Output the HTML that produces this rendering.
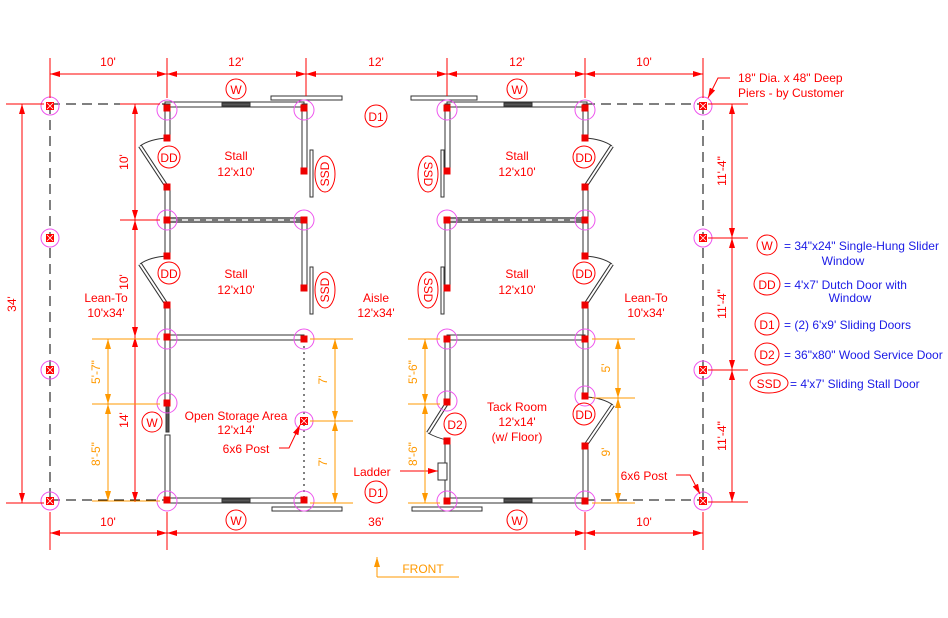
<!DOCTYPE html>
<html><head><meta charset="utf-8"><style>
html,body{margin:0;padding:0;background:#fff;}
svg{display:block;font-family:"Liberation Sans",sans-serif;}
</style></head><body>
<svg width="948" height="618" viewBox="0 0 948 618" xmlns="http://www.w3.org/2000/svg">
<defs>
<marker id="a" viewBox="0 0 10 6" refX="10" refY="3" markerWidth="10" markerHeight="6" orient="auto-start-reverse" markerUnits="userSpaceOnUse"><path d="M0,0L10,3L0,6z" fill="#f00"/></marker>
<marker id="o" viewBox="0 0 10 6" refX="10" refY="3" markerWidth="10" markerHeight="6" orient="auto-start-reverse" markerUnits="userSpaceOnUse"><path d="M0,0L10,3L0,6z" fill="#f90"/></marker>
<g id="pier"><circle r="9" fill="none" stroke="#e5e" stroke-width="1"/><rect x="-4" y="-4" width="8" height="8" fill="#f00"/><path d="M-3,-3L3,3M3,-3L-3,3" stroke="#fff" stroke-width="0.8"/></g>
<g id="post"><rect x="-3.5" y="-3.5" width="7" height="7" fill="#e00"/></g>
</defs>

<g stroke="#000" stroke-width="1" stroke-dasharray="10,6" fill="none">
<line x1="50" y1="104" x2="167" y2="104"/><line x1="585" y1="104" x2="703" y2="104"/>
<line x1="50" y1="104" x2="50" y2="500"/><line x1="703" y1="104" x2="703" y2="500"/>
<line x1="50" y1="500" x2="167" y2="500"/><line x1="585" y1="500" x2="703" y2="500"/>
</g>

<g fill="#fff" stroke="#333" stroke-width="1">
<rect x="165" y="102" width="139" height="5"/>
<rect x="165" y="104" width="5" height="34"/>
<rect x="165" y="187" width="5" height="69"/>
<rect x="165" y="305" width="5" height="97"/>
<rect x="165" y="435" width="5" height="67"/>
<rect x="302" y="104" width="5" height="68"/>
<rect x="302" y="220" width="5" height="70"/>
<rect x="167" y="335" width="137" height="5"/>
<rect x="165" y="498" width="139" height="5"/>
<rect x="447" y="102" width="140" height="5"/>
<rect x="445" y="104" width="5" height="68"/>
<rect x="445" y="220" width="5" height="70"/>
<rect x="583" y="104" width="5" height="34"/>
<rect x="583" y="187" width="5" height="69"/>
<rect x="583" y="305" width="5" height="92"/>
<rect x="583" y="446" width="5" height="56"/>
<rect x="447" y="335" width="138" height="5"/>
<rect x="445" y="337" width="5" height="66"/>
<rect x="445" y="440" width="5" height="62"/>
<rect x="447" y="498" width="140" height="5"/>
</g>
<g><rect x="167" y="217" width="137" height="6" fill="#777"/><line x1="170" y1="220" x2="304" y2="220" stroke="#fff" stroke-width="1.5" stroke-dasharray="6,6"/>
<rect x="447" y="217" width="138" height="6" fill="#777"/><line x1="450" y1="220" x2="585" y2="220" stroke="#fff" stroke-width="1.5" stroke-dasharray="6,6"/>
<line x1="304.5" y1="110" x2="304.5" y2="170" stroke="#fff" stroke-width="1" stroke-dasharray="5,5"/>
<line x1="447.5" y1="110" x2="447.5" y2="170" stroke="#fff" stroke-width="1" stroke-dasharray="5,5"/>
</g>
<g fill="#555" stroke="#333"><rect x="222" y="103" width="28" height="3"/><rect x="222" y="499" width="28" height="3"/><rect x="504" y="103" width="28" height="3"/><rect x="504" y="499" width="28" height="3"/><rect x="166" y="404" width="3" height="28"/></g>
<g fill="#fff" stroke="#333"><rect x="271" y="96" width="71" height="4"/><rect x="411" y="96" width="66" height="4"/><rect x="272" y="507" width="70" height="4"/><rect x="412" y="507" width="70" height="4"/>
<rect x="310" y="150" width="3" height="47"/><rect x="310" y="267" width="3" height="47"/><rect x="441" y="150" width="3" height="47"/><rect x="441" y="267" width="3" height="47"/>
<rect x="438" y="463" width="9" height="17"/></g>
<g fill="none" stroke="#333" stroke-width="1">
<path d="M140,146 L167,187" stroke-width="4"/><path d="M140,146 L167,187" stroke="#fff" stroke-width="2"/>
<path d="M167,138 Q150,139 140,146"/>
<path d="M140,264 L167,305" stroke-width="4"/><path d="M140,264 L167,305" stroke="#fff" stroke-width="2"/>
<path d="M167,256 Q150,257 140,264"/>
<path d="M612,146 L585,187" stroke-width="4"/><path d="M612,146 L585,187" stroke="#fff" stroke-width="2"/>
<path d="M585,138 Q602,139 612,146"/>
<path d="M612,264 L585,305" stroke-width="4"/><path d="M612,264 L585,305" stroke="#fff" stroke-width="2"/>
<path d="M585,256 Q602,257 612,264"/>
<path d="M613,405 L585,446" stroke-width="4"/><path d="M613,405 L585,446" stroke="#fff" stroke-width="2"/>
<path d="M587,397 Q603,398 613,405"/>
<path d="M447,403 L428,433" stroke-width="4"/><path d="M447,403 L428,433" stroke="#fff" stroke-width="2"/>
<path d="M428,433 Q437,438 447,440"/>
</g>
<line x1="304" y1="340" x2="304" y2="498" stroke="#000" stroke-dasharray="2,4"/>

<g>
<use href="#post" x="167" y="108"/><use href="#post" x="167" y="138"/><use href="#post" x="167" y="187"/><use href="#post" x="167" y="256"/><use href="#post" x="167" y="305"/><use href="#post" x="167" y="220"/><use href="#post" x="167" y="337"/><use href="#post" x="167" y="403"/><use href="#post" x="167" y="500"/>
<use href="#post" x="304" y="108"/><use href="#post" x="304" y="171"/><use href="#post" x="304" y="220"/><use href="#post" x="304" y="288"/><use href="#post" x="304" y="339"/><use href="#post" x="304" y="500"/>
<use href="#post" x="447" y="108"/><use href="#post" x="447" y="171"/><use href="#post" x="447" y="220"/><use href="#post" x="447" y="288"/><use href="#post" x="447" y="339"/><use href="#post" x="447" y="402"/><use href="#post" x="447" y="441"/><use href="#post" x="447" y="501"/>
<use href="#post" x="585" y="108"/><use href="#post" x="585" y="138"/><use href="#post" x="585" y="187"/><use href="#post" x="585" y="220"/><use href="#post" x="585" y="256"/><use href="#post" x="585" y="305"/><use href="#post" x="585" y="339"/><use href="#post" x="585" y="396"/><use href="#post" x="585" y="446"/><use href="#post" x="585" y="501"/>
</g>
<g fill="none" stroke="#e5e"><circle cx="167" cy="110" r="10"/><circle cx="304" cy="110" r="10"/><circle cx="447" cy="110" r="10"/><circle cx="585" cy="110" r="10"/>
<circle cx="167" cy="220" r="10"/><circle cx="304" cy="220" r="10"/><circle cx="447" cy="220" r="10"/><circle cx="585" cy="220" r="10"/>
<circle cx="167" cy="339" r="10"/><circle cx="304" cy="339" r="10"/><circle cx="447" cy="339" r="10"/><circle cx="585" cy="339" r="10"/>
<circle cx="167" cy="403" r="10"/><circle cx="447" cy="401" r="10"/><circle cx="585" cy="396" r="10"/>
<circle cx="167" cy="501" r="10"/><circle cx="304" cy="501" r="10"/><circle cx="447" cy="501" r="10"/><circle cx="585" cy="501" r="10"/></g>
<use href="#pier" x="50" y="106"/><use href="#pier" x="50" y="238"/><use href="#pier" x="50" y="370"/><use href="#pier" x="50" y="501"/>
<use href="#pier" x="703" y="106"/><use href="#pier" x="703" y="238"/><use href="#pier" x="703" y="370"/><use href="#pier" x="703" y="501"/>
<use href="#pier" x="304" y="421"/>

<g stroke="#f00" stroke-width="1" fill="none">
<line x1="50" y1="58" x2="50" y2="98"/><line x1="167" y1="58" x2="167" y2="98"/><line x1="306" y1="58" x2="306" y2="96"/><line x1="447" y1="58" x2="447" y2="96"/><line x1="585" y1="58" x2="585" y2="98"/><line x1="703" y1="58" x2="703" y2="98"/>
<line x1="50" y1="74" x2="167" y2="74" marker-start="url(#a)" marker-end="url(#a)"/>
<line x1="167" y1="74" x2="306" y2="74" marker-start="url(#a)" marker-end="url(#a)"/>
<line x1="306" y1="74" x2="447" y2="74" marker-start="url(#a)" marker-end="url(#a)"/>
<line x1="447" y1="74" x2="585" y2="74" marker-start="url(#a)" marker-end="url(#a)"/>
<line x1="585" y1="74" x2="703" y2="74" marker-start="url(#a)" marker-end="url(#a)"/>
<line x1="50" y1="512" x2="50" y2="550"/><line x1="167" y1="512" x2="167" y2="550"/><line x1="585" y1="512" x2="585" y2="550"/><line x1="703" y1="512" x2="703" y2="550"/>
<line x1="50" y1="533" x2="167" y2="533" marker-start="url(#a)" marker-end="url(#a)"/>
<line x1="167" y1="533" x2="585" y2="533" marker-start="url(#a)" marker-end="url(#a)"/>
<line x1="585" y1="533" x2="703" y2="533" marker-start="url(#a)" marker-end="url(#a)"/>
<line x1="6" y1="104" x2="44" y2="104"/><line x1="6" y1="503" x2="44" y2="503"/>
<line x1="22" y1="104" x2="22" y2="503" marker-start="url(#a)" marker-end="url(#a)"/>
<line x1="120" y1="104" x2="160" y2="104"/><line x1="120" y1="220" x2="160" y2="220"/>
<line x1="135" y1="104" x2="135" y2="220" marker-start="url(#a)" marker-end="url(#a)"/>
<line x1="135" y1="220" x2="135" y2="337" marker-start="url(#a)" marker-end="url(#a)"/>
<line x1="135" y1="337" x2="135" y2="502" marker-start="url(#a)" marker-end="url(#a)"/>
<line x1="708" y1="104" x2="748" y2="104"/><line x1="708" y1="238" x2="748" y2="238"/><line x1="708" y1="370" x2="748" y2="370"/><line x1="708" y1="502" x2="748" y2="502"/>
<line x1="732" y1="104" x2="732" y2="238" marker-start="url(#a)" marker-end="url(#a)"/>
<line x1="732" y1="238" x2="732" y2="370" marker-start="url(#a)" marker-end="url(#a)"/>
<line x1="732" y1="370" x2="732" y2="502" marker-start="url(#a)" marker-end="url(#a)"/>
<polyline points="279,448 289,448 300,425" marker-end="url(#a)"/>
<polyline points="400,471 438,471" marker-end="url(#a)"/>
<polyline points="676,475 690,475 700,494" marker-end="url(#a)"/>
<polyline points="730,78 718,78 708,98" marker-end="url(#a)"/>
<line x1="688" y1="74" x2="703" y2="74"/>
</g>
<g stroke="#f90" stroke-width="1" fill="none">
<line x1="92" y1="339" x2="160" y2="339"/><line x1="92" y1="404" x2="160" y2="404"/><line x1="92" y1="501" x2="160" y2="501"/>
<line x1="108" y1="339" x2="108" y2="404" marker-start="url(#o)" marker-end="url(#o)"/>
<line x1="108" y1="404" x2="108" y2="501" marker-start="url(#o)" marker-end="url(#o)"/>
<line x1="310" y1="339" x2="353" y2="339"/><line x1="310" y1="421" x2="353" y2="421"/><line x1="310" y1="503" x2="353" y2="503"/>
<line x1="335" y1="339" x2="335" y2="421" marker-start="url(#o)" marker-end="url(#o)"/>
<line x1="335" y1="421" x2="335" y2="503" marker-start="url(#o)" marker-end="url(#o)"/>
<line x1="408" y1="339" x2="440" y2="339"/><line x1="408" y1="404" x2="440" y2="404"/><line x1="408" y1="503" x2="440" y2="503"/>
<line x1="425" y1="339" x2="425" y2="404" marker-start="url(#o)" marker-end="url(#o)"/>
<line x1="425" y1="404" x2="425" y2="503" marker-start="url(#o)" marker-end="url(#o)"/>
<line x1="592" y1="339" x2="635" y2="339"/><line x1="592" y1="398" x2="635" y2="398"/><line x1="592" y1="503" x2="635" y2="503"/>
<line x1="618" y1="339" x2="618" y2="398" marker-start="url(#o)" marker-end="url(#o)"/>
<line x1="618" y1="398" x2="618" y2="503" marker-start="url(#o)" marker-end="url(#o)"/>
<polyline points="377,577 377,557" marker-end="url(#o)"/><line x1="377" y1="577" x2="459" y2="577"/>
</g>

<g fill="#f00" font-size="12" text-anchor="middle">
<text x="108" y="66">10'</text><text x="236" y="66">12'</text><text x="376" y="66">12'</text><text x="517" y="66">12'</text><text x="644" y="66">10'</text>
<text x="108" y="526">10'</text><text x="376" y="526">36'</text><text x="644" y="526">10'</text>
<text transform="translate(16,304) rotate(-90)">34'</text>
<text transform="translate(128,162) rotate(-90)">10'</text>
<text transform="translate(128,282) rotate(-90)">10'</text>
<text transform="translate(128,420) rotate(-90)">14'</text>
<text transform="translate(726,171) rotate(-90)">11'-4"</text>
<text transform="translate(726,304) rotate(-90)">11'-4"</text>
<text transform="translate(726,436) rotate(-90)">11'-4"</text>
<text x="236" y="160">Stall</text><text x="236" y="176">12'x10'</text>
<text x="236" y="278">Stall</text><text x="236" y="294">12'x10'</text>
<text x="517" y="160">Stall</text><text x="517" y="176">12'x10'</text>
<text x="517" y="278">Stall</text><text x="517" y="294">12'x10'</text>
<text x="376" y="302">Aisle</text><text x="376" y="317">12'x34'</text>
<text x="106" y="302">Lean-To</text><text x="106" y="317">10'x34'</text>
<text x="646" y="302">Lean-To</text><text x="646" y="317">10'x34'</text>
<text x="236" y="420">Open Storage Area</text><text x="236" y="434">12'x14'</text>
<text x="246" y="453">6x6 Post</text>
<text x="517" y="411">Tack Room</text><text x="517" y="426">12'x14'</text><text x="517" y="441">(w/ Floor)</text>
<text x="372" y="476">Ladder</text>
<text x="644" y="480">6x6 Post</text>
<text x="738" y="82" text-anchor="start">18" Dia. x 48" Deep</text>
<text x="738" y="97" text-anchor="start">Piers - by Customer</text>
</g>
<g fill="#f90" font-size="12" text-anchor="middle">
<text transform="translate(100,372) rotate(-90)">5'-7"</text>
<text transform="translate(100,454) rotate(-90)">8'-5"</text>
<text transform="translate(327,380) rotate(-90)">7'</text>
<text transform="translate(327,462) rotate(-90)">7'</text>
<text transform="translate(417,372) rotate(-90)">5'-6"</text>
<text transform="translate(417,454) rotate(-90)">8'-6"</text>
<text transform="translate(610,368) rotate(-90)">5'</text>
<text transform="translate(610,452) rotate(-90)">9'</text>
<text x="423" y="573">FRONT</text>
</g>
<g fill="none" stroke="#f00">
<circle cx="236" cy="89" r="10"/><circle cx="517" cy="89" r="10"/><circle cx="236" cy="520" r="10"/><circle cx="517" cy="520" r="10"/>
<circle cx="376" cy="116" r="11"/><circle cx="376" cy="492" r="11"/>
<circle cx="169" cy="157" r="11"/><circle cx="169" cy="273" r="11"/><circle cx="584" cy="157" r="11"/><circle cx="584" cy="273" r="11"/><circle cx="584" cy="414" r="11"/>
<circle cx="152" cy="422" r="10"/><circle cx="455" cy="424" r="11"/>
<ellipse cx="325" cy="174" rx="10" ry="18"/><ellipse cx="325" cy="290" rx="10" ry="18"/><ellipse cx="428" cy="174" rx="10" ry="18"/><ellipse cx="428" cy="290" rx="10" ry="18"/>
<circle cx="767" cy="245" r="10"/><ellipse cx="767" cy="284" rx="13" ry="11"/><ellipse cx="767" cy="324" rx="12" ry="11"/><ellipse cx="767" cy="354" rx="12" ry="11"/><ellipse cx="769" cy="383" rx="19" ry="10"/>
</g>
<g fill="#f00" font-size="12" text-anchor="middle">
<text x="236" y="94">W</text><text x="517" y="94">W</text><text x="236" y="525">W</text><text x="517" y="525">W</text>
<text x="376" y="121">D1</text><text x="376" y="497">D1</text>
<text x="169" y="162">DD</text><text x="169" y="278">DD</text><text x="584" y="162">DD</text><text x="584" y="278">DD</text><text x="584" y="419">DD</text>
<text x="152" y="427">W</text><text x="455" y="429">D2</text>
<text transform="translate(329,174) rotate(-90)">SSD</text><text transform="translate(329,290) rotate(-90)">SSD</text>
<text transform="translate(424,174) rotate(90)">SSD</text><text transform="translate(424,290) rotate(90)">SSD</text>
<text x="767" y="250">W</text><text x="767" y="289">DD</text><text x="767" y="329">D1</text><text x="767" y="359">D2</text><text x="769" y="388">SSD</text>
</g>
<g fill="#1a1ae6" font-size="12">
<text x="784" y="250">= 34"x24" Single-Hung Slider</text><text x="843" y="265" text-anchor="middle">Window</text>
<text x="784" y="289">= 4'x7' Dutch Door with</text><text x="850" y="302" text-anchor="middle">Window</text>
<text x="784" y="329">= (2) 6'x9' Sliding Doors</text>
<text x="784" y="359">= 36"x80" Wood Service Door</text>
<text x="790" y="388">= 4'x7' Sliding Stall Door</text>
</g>
</svg>
</body></html>
